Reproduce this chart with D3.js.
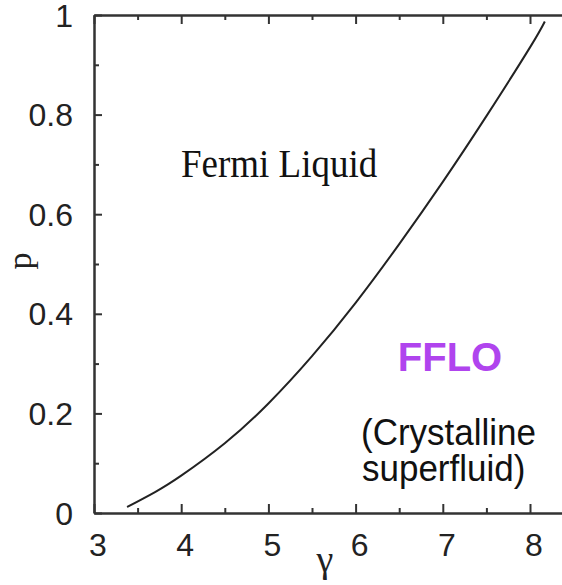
<!DOCTYPE html>
<html>
<head>
<meta charset="utf-8">
<script src="https://cdn.jsdelivr.net/npm/d3@7"></script>
<style>
  html, body { margin: 0; padding: 0; background: #fff; }
  svg { display: block; }
</style>
</head>
<body>
<div id="chart"></div>
<script>
// phase boundary
const gammaVals = [3.38, 3.7, 4.0, 4.5, 5.0, 5.5, 6.0, 6.5, 7.0, 7.5, 8.0, 8.17];
const pVals     = [0.012, 0.042, 0.075, 0.140, 0.220, 0.315, 0.422, 0.540, 0.665, 0.797, 0.935, 0.987];

const xMajor = [3, 4, 5, 6, 7, 8];
const xMinor = [3.5, 4.5, 5.5, 6.5, 7.5];
const yMajor = [0, 0.2, 0.4, 0.6, 0.8, 1];
const yMinor = [0.1, 0.3, 0.5, 0.7, 0.9];

const width = 562, height = 585;
const svg = d3.select("#chart").append("svg")
    .attr("width", width)
    .attr("height", height);

// plot continues past the right edge of the picture
const x = d3.scaleLinear().domain([3, 8.4]).range([94, 94 + 5.4 * 87.2]);
const y = d3.scaleLinear().domain([0, 1]).range([513, 15]);

const axisColor = "#333";

function styleAxis(g) {
    g.select(".domain").attr("stroke", axisColor).attr("stroke-width", 2);
    g.selectAll(".tick line").attr("stroke", axisColor).attr("stroke-width", 2);
    g.selectAll(".tick text").remove();
}

// bottom
svg.append("g").attr("transform", `translate(0,${y(0)})`)
    .call(d3.axisBottom(x).tickValues(xMajor).tickSizeInner(-9).tickSizeOuter(0))
    .call(styleAxis);
svg.append("g").attr("transform", `translate(0,${y(0)})`)
    .call(d3.axisBottom(x).tickValues(xMinor).tickSizeInner(-5).tickSizeOuter(0))
    .call(styleAxis);
// top
svg.append("g").attr("transform", `translate(0,${y(1)})`)
    .call(d3.axisTop(x).tickValues(xMajor).tickSizeInner(-9).tickSizeOuter(0))
    .call(styleAxis);
svg.append("g").attr("transform", `translate(0,${y(1)})`)
    .call(d3.axisTop(x).tickValues(xMinor).tickSizeInner(-5).tickSizeOuter(0))
    .call(styleAxis);
// left
svg.append("g").attr("transform", `translate(${x(3)},0)`)
    .call(d3.axisLeft(y).tickValues(yMajor).tickSizeInner(-8).tickSizeOuter(0))
    .call(styleAxis);
svg.append("g").attr("transform", `translate(${x(3)},0)`)
    .call(d3.axisLeft(y).tickValues(yMinor).tickSizeInner(-5).tickSizeOuter(0))
    .call(styleAxis);

// tick labels
svg.append("g").selectAll("text").data(xMajor).join("text")
    .attr("x", d => x(d) + 4)
    .attr("y", 556)
    .attr("text-anchor", "middle")
    .style("font-family", "'Liberation Sans', Arial, sans-serif")
    .style("font-size", "32px")
    .attr("fill", "#222")
    .text(d => d);

svg.append("g").selectAll("text").data(yMajor).join("text")
    .attr("x", 73)
    .attr("y", d => y(d))
    .attr("dy", "0.36em")
    .attr("text-anchor", "end")
    .style("font-family", "'Liberation Sans', Arial, sans-serif")
    .style("font-size", "32px")
    .attr("fill", "#222")
    .text(d => d);

// axis titles
svg.append("text")
    .attr("x", 325).attr("y", 572)
    .attr("text-anchor", "middle")
    .style("font-family", "'Liberation Serif', 'Times New Roman', serif")
    .style("font-size", "38px")
    .attr("fill", "#222")
    .text("γ");

svg.append("text")
    .attr("transform", "translate(31,261) rotate(-90)")
    .attr("text-anchor", "middle")
    .style("font-family", "'Liberation Serif', 'Times New Roman', serif")
    .style("font-size", "34px")
    .attr("fill", "#222")
    .text("p");

// boundary curve
const line = d3.line()
    .x((d, i) => x(gammaVals[i]))
    .y((d, i) => y(pVals[i]))
    .curve(d3.curveNatural);

svg.append("path")
    .datum(gammaVals)
    .attr("d", line)
    .attr("fill", "none")
    .attr("stroke", "#222")
    .attr("stroke-width", 2);

// region labels
svg.append("text")
    .attr("transform", "translate(181,177) scale(1,1.1)")
    .style("font-family", "'Liberation Serif', 'Times New Roman', serif")
    .style("font-size", "37px")
    .attr("fill", "#111")
    .text("Fermi Liquid");

svg.append("text")
    .attr("x", 450).attr("y", 371)
    .attr("text-anchor", "middle")
    .style("font-family", "'Liberation Sans', Arial, sans-serif")
    .style("font-size", "40px")
    .style("font-weight", "bold")
    .attr("fill", "#b044ee")
    .text("FFLO");

svg.append("text")
    .attr("transform", "translate(361,445) scale(1,1.07)")
    .style("font-family", "'Liberation Sans', Arial, sans-serif")
    .style("font-size", "35px")
    .attr("fill", "#111")
    .text("(Crystalline");

svg.append("text")
    .attr("transform", "translate(362,481) scale(1,1.07)")
    .style("font-family", "'Liberation Sans', Arial, sans-serif")
    .style("font-size", "35px")
    .attr("fill", "#111")
    .text("superfluid)");
</script>
</body>
</html>
